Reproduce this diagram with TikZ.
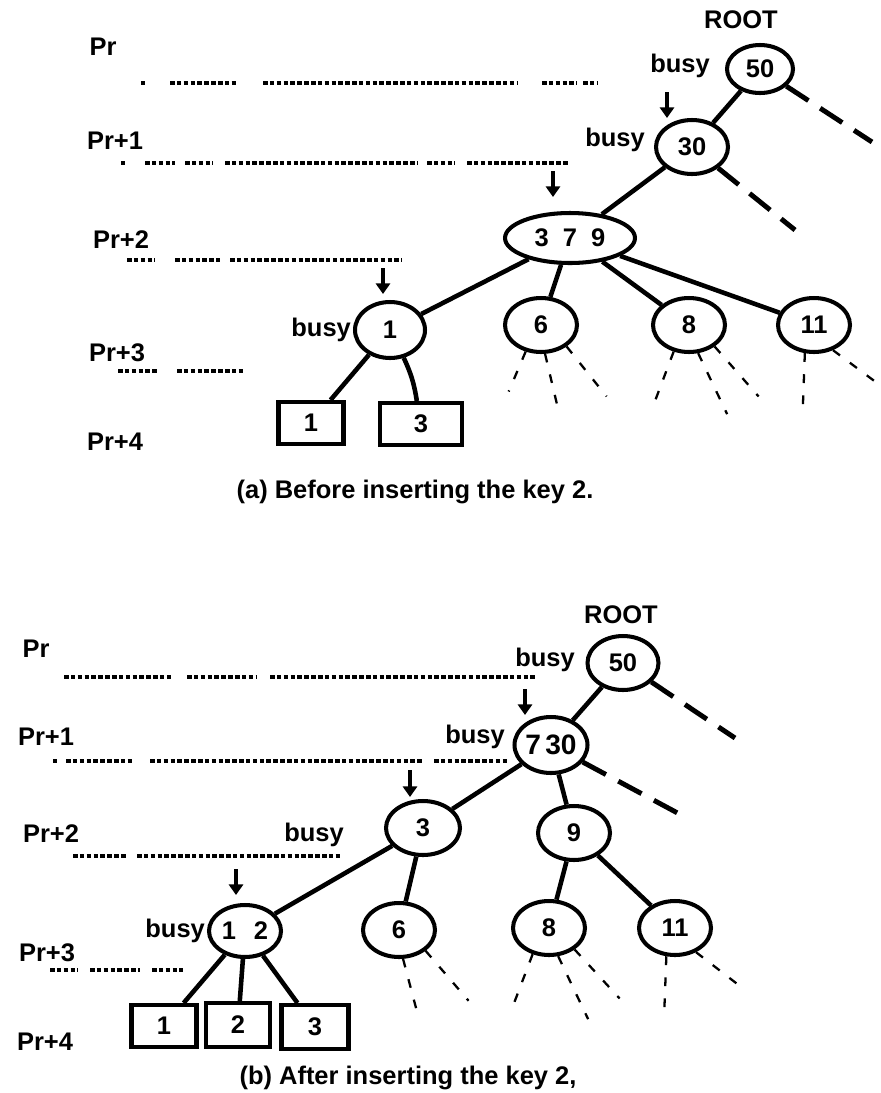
\documentclass[tikz,border=0pt]{standalone}
\usepackage{fontspec}
\setmainfont{Liberation Sans}
\usepackage{tikz}
\usetikzlibrary{shapes.geometric, arrows.meta, positioning}

\newcommand{\lbl}{\fontsize{14.5}{16}\selectfont\bfseries}
\newcommand{\num}{\fontsize{14.5}{16}\selectfont\bfseries}

\begin{document}
\begin{tikzpicture}[x=0.02cm, y=-0.02cm,
    key/.style={ellipse, draw, line width=2.3pt, inner sep=0pt, minimum width=1.44cm, minimum height=1.08cm, font=\num},
    leaf/.style={rectangle, draw, line width=2.3pt, inner sep=0pt, minimum width=1.3cm, minimum height=0.84cm, font=\num},
    tag/.style={font=\lbl, inner sep=1pt},
    edge/.style={line width=2.6pt},
    ptr/.style={line width=2.2pt, -{Triangle[width=8pt,length=6pt]}},
    nil/.style={line width=2.8pt, dash pattern=on 15pt off 8pt},
    stub/.style={line width=1.3pt, dash pattern=on 5pt off 7pt},
    dotline/.style={line width=2pt, dash pattern=on 2.6pt off 1.3pt}
]
\useasboundingbox (0,0) rectangle (880,1093);

% ---------- (a) before the insertion ----------
% level labels
\node[tag] (aPr0) at (103,47) {Pr};
\node[tag] (aPr1) at (115,141) {Pr+1};
\node[tag] (aPr2) at (121,240) {Pr+2};
\node[tag] (aPr3) at (117,353) {Pr+3};
\node[tag] (aPr4) at (115,442) {Pr+4};

% processors on each level
\draw[dotline] (141,83) -- (145,83) (170,83) -- (238,83) (263,83) -- (517,83) (542,83) -- (577,83) (583,83) -- (597,83);
\draw[dotline] (121,163) -- (125,163) (145,163) -- (175,163) (185,163) -- (213,163) (225,163) -- (418,163) (427,163) -- (455,163) (467,163) -- (568,163);
\draw[dotline] (127,260) -- (155,260) (175,260) -- (220,260) (230,260) -- (402,260);
\draw[dotline] (118,371) -- (157,371) (177,371) -- (245,371);

% Define nodes
\node[tag] (aroot) at (741,20) {ROOT};
\node[key, minimum width=1.32cm, minimum height=0.96cm] (a50) at (760,69) {50};
\node[key] (a30) at (692,147) {30};
\node[key, minimum width=2.6cm, minimum height=1cm] (a379) at (570,238) {3\hspace{0.55em}7\hspace{0.55em}9};
\node[key, minimum width=1.4cm, minimum height=1.12cm] (a1) at (390,330) {1};
\node[key] (a6) at (541,325) {6};
\node[key] (a8) at (689,325) {8};
\node[key] (a11) at (814,325) {11};
\node[leaf] (aleaf1) at (311,423) {1};
\node[leaf, minimum width=1.64cm] (aleaf3) at (421,424) {3};

\node[tag] (abusy50) at (680,66) {busy};
\node[tag] (abusy30) at (615,140) {busy};
\node[tag, anchor=east] (abusy1) at (a1.west) {busy};

% Draw edges
\draw[edge] (a50) -- (a30);
\draw[edge] (a30) -- (a379);
\draw[edge] (a379) -- (a1);
\draw[edge] (a379) -- (a6);
\draw[edge] (a379) -- (a8);
\draw[edge] (a379) -- (a11);
\draw[edge] (a1) -- (aleaf1);
\draw[edge] (a1) to[bend left=8] (aleaf3);

\coordinate (anil50) at (872,142);
\coordinate (anil30) at (795,230);
\draw[nil] (a50) -- (anil50);
\draw[nil] (a30) -- (anil30);

% locks coming down
\coordinate (aptr30) at (667,92);
\coordinate (aptr379) at (553,171);
\coordinate (aptr1) at (383,268);
\draw[ptr] (aptr30) -- ++(0,26);
\draw[ptr] (aptr379) -- ++(0,26);
\draw[ptr] (aptr1) -- ++(0,26);

% subtrees
\foreach \n/\a/\dx/\dy in {a6/-120/-17/40, a6/-82/13/55, a6/-40/40/50,
    a8/-120/-20/53, a8/-72/29/61, a8/-40/44/50,
    a11/-108/-2/54, a11/-53/47/35}
  \draw[stub] (\n.\a) -- ++(\dx,\dy);

\node[tag] (acap) at (415,492) {(a) Before inserting the key 2.};

% ---------- (b) after the insertion ----------
\node[tag] (bPr0) at (36,649) {Pr};
\node[tag] (bPr1) at (46,737) {Pr+1};
\node[tag] (bPr2) at (51,834) {Pr+2};
\node[tag] (bPr3) at (47,953) {Pr+3};
\node[tag] (bPr4) at (45,1042) {Pr+4};

\draw[dotline] (64,677) -- (171,677) (187,677) -- (257,677) (270,677) -- (537,677);
\draw[dotline] (53,761) -- (57,761) (66,761) -- (134,761) (150,761) -- (423,761) (434,761) -- (508,761);
\draw[dotline] (73,856) -- (127,856) (137,856) -- (340,856);
\draw[dotline] (50,970) -- (78,970) (90,970) -- (140,970) (152,970) -- (183,970);

\node[tag] (broot) at (621,615) {ROOT};
\node[key, minimum width=1.42cm] (b50) at (623,663) {50};
\node[key, minimum width=1.46cm, minimum height=1.12cm] (b730) at (551,745) {\fontsize{16}{18}\selectfont 7\hspace{0.15em}30};
\node[key, minimum width=1.48cm] (b3) at (423,828) {3};
\node[key, minimum width=1.44cm] (b9) at (574,833) {9};
\node[key, minimum height=1.04cm] (b12) at (245,931) {1\hspace{0.7em}2};
\node[key] (b6) at (399,930) {6};
\node[key] (b8) at (549,928) {8};
\node[key] (b11) at (675,928) {11};
\node[leaf] (bleaf1) at (164,1026) {1};
\node[leaf, minimum width=1.28cm, minimum height=0.88cm] (bleaf2) at (238,1025) {2};
\node[leaf, minimum width=1.34cm, minimum height=0.88cm] (bleaf3) at (315,1027) {3};

\node[tag] (bbusy50) at (545,660) {busy};
\node[tag] (bbusy730) at (475,737) {busy};
\node[tag] (bbusy3) at (314,835) {busy};
\node[tag, anchor=east] (bbusy12) at (b12.west) {busy};

\draw[edge] (b50) -- (b730);
\draw[edge] (b730) -- (b3);
\draw[edge] (b730) -- (b9);
\draw[edge] (b3) -- (b12);
\draw[edge] (b3) -- (b6);
\draw[edge] (b9) -- (b8);
\draw[edge] (b9) -- (b11);
\draw[edge] (b12) -- (bleaf1);
\draw[edge] (b12) -- (bleaf2);
\draw[edge] (b12) -- (bleaf3);

\coordinate (bnil50) at (735,738);
\coordinate (bnil730) at (685,817);
\draw[nil] (b50) -- (bnil50);
\draw[nil] (b730) -- (bnil730);

\coordinate (bptr730) at (525,689);
\coordinate (bptr3) at (410,770);
\coordinate (bptr12) at (236,869);
\draw[ptr] (bptr730) -- ++(0,26);
\draw[ptr] (bptr3) -- ++(0,27);
\draw[ptr] (bptr12) -- ++(0,26);

\foreach \n/\a/\dx/\dy in {b6/-82/14/53, b6/-38/43/50,
    b8/-122/-19/50, b8/-72/30/63, b8/-40/45/49,
    b11/-107/-2/53, b11/-49/48/37}
  \draw[stub] (\n.\a) -- ++(\dx,\dy);

\node[tag] (bcap) at (408,1078) {(b) After inserting the key 2,};

\end{tikzpicture}
\end{document}
